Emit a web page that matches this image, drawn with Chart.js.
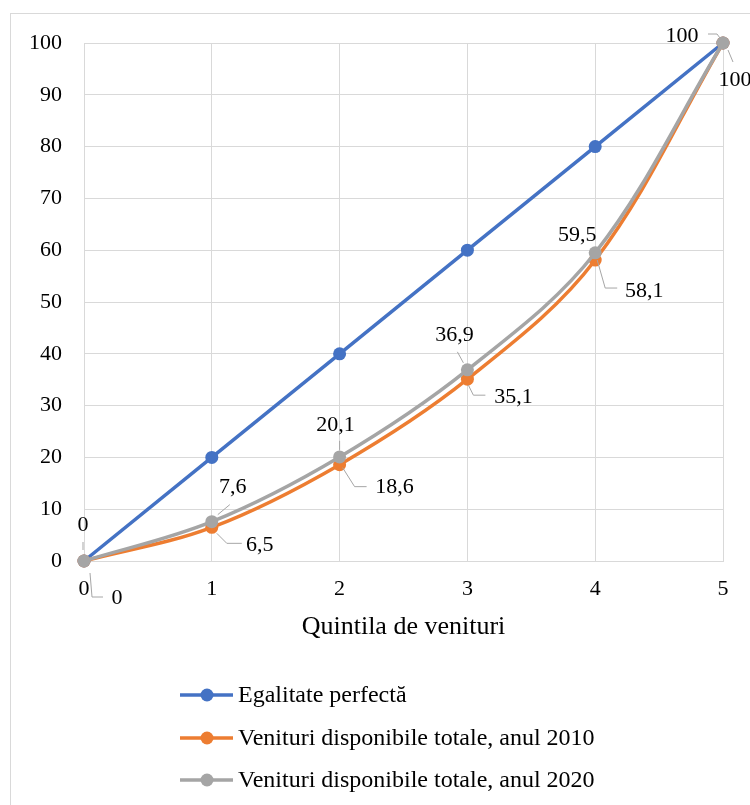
<!DOCTYPE html>
<html>
<head>
<meta charset="utf-8">
<script src="https://cdn.jsdelivr.net/npm/chart.js@4.4.1/dist/chart.umd.min.js"></script>
<style>
  body { margin: 0; background: #fff; }
  #wrap { width: 750px; height: 805px; position: relative; }
</style>
</head>
<body>
<div id="wrap"><canvas id="Chart"></canvas></div>
<script>
// data
const quintiles = [0, 1, 2, 3, 4, 5];
const equality = [0, 20, 40, 60, 80, 100];
const income2010 = [0, 6.5, 18.6, 35.1, 58.1, 100];
const income2020 = [0, 7.6, 20.1, 36.9, 59.5, 100];
const seriesNames = ['Egalitate perfectă', 'Venituri disponibile totale, anul 2010', 'Venituri disponibile totale, anul 2020'];
const xTitle = 'Quintila de venituri';

const colors = ['#4472C4', '#ED7D31', '#A5A5A5'];
const FONT = "'Liberation Serif', 'Times New Roman', serif";

// label placement (pixels from the point): text offset + leader polyline
const labelStyle = {
  1: [
    { dx: 33, dy: 37, lead: [[6, 12], [8, 36], [19, 36]] },
    { dx: 48, dy: 18, lead: [[5, 6], [15, 16], [30, 16]] },
    { dx: 55, dy: 23, lead: [[3, 3], [15, 22], [27, 22]] },
    { dx: 46, dy: 18, lead: [[1, 6], [6, 16], [18, 16]] },
    { dx: 49, dy: 31, lead: [[2, 0], [10, 28], [22, 28]] },
    { dx: 12, dy: 37, lead: [[5, 7], [10, 19]] }
  ],
  2: [
    { dx: -1, dy: -36, lead: [[-1, -19], [-1, -11]] },
    { dx: 21, dy: -34, lead: [[18, -17], [6, -7]] },
    { dx: -4, dy: -32, lead: [[0, -16], [0, -7]] },
    { dx: -13, dy: -35, lead: [[-10, -18], [-4, -7]] },
    { dx: -18, dy: -18, lead: [] },
    { dx: -41, dy: -7, lead: [[-15, -9], [-6, -9], [-3, -5]] }
  ]
};

function toPoints(values) {
  return quintiles.map((q, i) => ({ x: q, y: values[i] }));
}

const frame = {
  id: 'frame',
  beforeDraw(chart) {
    const ctx = chart.ctx;
    ctx.save();
    ctx.fillStyle = '#fff';
    ctx.fillRect(0, 0, chart.width, chart.height);
    ctx.strokeStyle = '#d9d9d9';
    ctx.lineWidth = 1;
    ctx.strokeRect(10.5, 13.5, 900, 900);
    ctx.restore();
  }
};

const dataLabels = {
  id: 'dataLabels',
  afterDatasetsDraw(chart) {
    const ctx = chart.ctx;
    ctx.save();
    ctx.font = '22px ' + FONT;
    ctx.textAlign = 'center';
    ctx.textBaseline = 'middle';
    Object.keys(labelStyle).forEach(di => {
      const meta = chart.getDatasetMeta(+di);
      const values = chart.data.datasets[di].data;
      meta.data.forEach((pt, i) => {
        const s = labelStyle[di][i];
        if (s.lead.length > 1) {
          ctx.strokeStyle = '#a6a6a6';
          ctx.lineWidth = 1;
          ctx.beginPath();
          s.lead.forEach(([lx, ly], k) => {
            if (k === 0) ctx.moveTo(pt.x + lx, pt.y + ly);
            else ctx.lineTo(pt.x + lx, pt.y + ly);
          });
          ctx.stroke();
        }
        ctx.fillStyle = '#000';
        ctx.fillText(String(values[i].y).replace('.', ','), pt.x + s.dx, pt.y + s.dy);
      });
    });
    ctx.restore();
  }
};

const legendBox = {
  id: 'legendBox',
  afterDraw(chart) {
    const ctx = chart.ctx;
    const rows = [695, 738, 780];
    ctx.save();
    ctx.font = '24px ' + FONT;
    ctx.textBaseline = 'middle';
    chart.data.datasets.forEach((ds, i) => {
      const y = rows[i];
      ctx.strokeStyle = ds.borderColor;
      ctx.lineWidth = 3.5;
      ctx.beginPath();
      ctx.moveTo(180, y);
      ctx.lineTo(233, y);
      ctx.stroke();
      ctx.fillStyle = ds.borderColor;
      ctx.beginPath();
      ctx.arc(207, y, 6.5, 0, Math.PI * 2);
      ctx.fill();
      ctx.fillStyle = '#000';
      ctx.fillText(ds.label, 238, y + 1);
    });
    ctx.restore();
  }
};

new Chart('Chart', {
  type: 'line',
  data: {
    datasets: [equality, income2010, income2020].map((vals, i) => ({
      label: seriesNames[i],
      data: toPoints(vals),
      borderColor: colors[i],
      backgroundColor: colors[i],
      pointBackgroundColor: colors[i],
      pointBorderColor: colors[i],
      pointRadius: 6.5,
      pointBorderWidth: 0,
      borderWidth: 3.5,
      tension: i === 0 ? 0 : 0.35,
      fill: false,
      clip: false,
      order: 3 - i
    }))
  },
  options: {
    responsive: true,
    maintainAspectRatio: false,
    animation: false,
    layout: { padding: { left: 0, top: 43, right: 27, bottom: 162 } },
    plugins: {
      legend: { display: false },
      tooltip: { enabled: false }
    },
    scales: {
      x: {
        type: 'linear',
        min: 0,
        max: 5,
        afterFit: s => { s.height = 82; },
        ticks: { stepSize: 1, padding: 15, color: '#000', font: { family: FONT, size: 22 } },
        grid: { color: '#d9d9d9', drawTicks: false },
        border: { color: '#d9d9d9' },
        title: { display: true, text: xTitle, color: '#000', padding: { top: 0, bottom: 0 }, font: { family: FONT, size: 26 } }
      },
      y: {
        min: 0,
        max: 100,
        afterFit: s => { s.width = 84; },
        ticks: { stepSize: 10, padding: 22, color: '#000', font: { family: FONT, size: 22 } },
        grid: { color: '#d9d9d9', drawTicks: false },
        border: { color: '#d9d9d9' }
      }
    }
  },
  plugins: [frame, dataLabels, legendBox]
});
</script>
</body>
</html>
